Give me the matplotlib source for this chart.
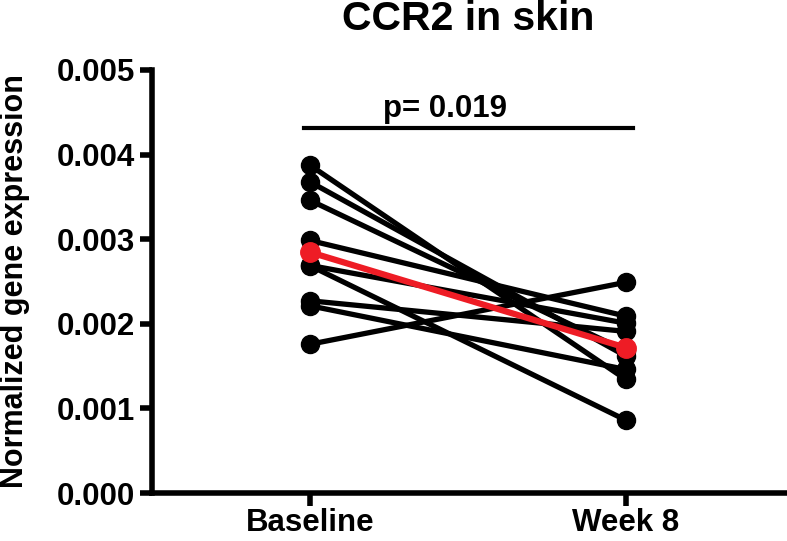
import numpy as np
import matplotlib
matplotlib.use("Agg")
import matplotlib.pyplot as plt
from matplotlib.ticker import FormatStrFormatter

plt.rcParams['font.family'] = ['Liberation Sans', 'DejaVu Sans']
plt.rcParams['font.weight'] = 'bold'

# paired values per subject
groups = ["Baseline", "Week 8"]
baseline = [0.003875, 0.003678, 0.00346, 0.002985, 0.002688, 0.00269, 0.002272, 0.002213, 0.001758]
week8 = [0.001342, 0.001619, 0.00168, 0.00209, 0.000861, 0.002007, 0.00191, 0.00146, 0.00249]
yticks = [0.000, 0.001, 0.002, 0.003, 0.004, 0.005]
p_text = "p= 0.019"
title = "CCR2 in skin"

fig = plt.figure(figsize=(7.87, 5.41), dpi=100)
ax = fig.add_axes([0.193, 0.0887, 0.807, 0.782])

xpos = np.arange(len(groups))
for b, w in zip(baseline, week8):
    ax.plot(xpos, [b, w], color='black', lw=3.8, marker='o', ms=13,
            solid_capstyle='round', clip_on=False, zorder=2)

means = [np.mean(baseline), np.mean(week8)]
ax.plot(xpos, means, color='#ee1c25', lw=4.5, marker='o', ms=14,
        clip_on=False, zorder=3)

ax.set_xlim(-0.5, 1.51)
ax.set_ylim(0, 0.005)
ax.set_xticks(xpos)
ax.set_xticklabels(groups)
ax.set_yticks(yticks)
ax.yaxis.set_major_formatter(FormatStrFormatter('%.3f'))

for s in ['top', 'right']:
    ax.spines[s].set_visible(False)
for s in ['left', 'bottom']:
    ax.spines[s].set_linewidth(4)
ax.tick_params(axis='both', length=9, width=4, labelsize=22.5)
ax.tick_params(axis='y', pad=3)
ax.tick_params(axis='x', pad=2)

# significance bar
ax.plot([-0.019, 1.023], [0.004313, 0.004313], color='black', lw=3, clip_on=False)
ax.text(0.428, 0.00444, p_text, ha='center', va='baseline', fontsize=22.5,
        fontweight='bold')

fig.text(468 / 787, 1 - 30 / 541, title, ha='center', va='baseline',
         fontsize=29.5, fontweight='bold')
fig.text(15 / 787, 0.5 * (0.0887 + 0.8706), "Normalized gene expression",
         rotation=90, ha='center', va='center', fontsize=22, fontweight='bold')

fig.savefig("out.png", dpi=100)
